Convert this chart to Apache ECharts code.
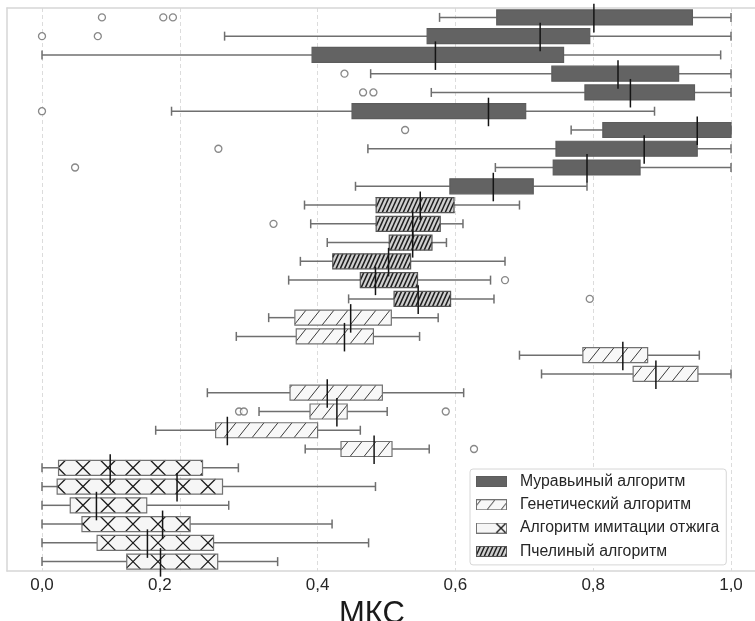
<!DOCTYPE html>
<html><head><meta charset="utf-8">
<script src="https://cdn.jsdelivr.net/npm/echarts@6/dist/echarts.min.js"></script>
<style>html,body{margin:0;padding:0;background:#fff}#c{width:755px;height:621px}</style>
</head><body><div id="c"></div>
<script>
// ---- categories (rows, top to bottom) ----
const rowIds = ['A1','A2','A3','A4','A5','A6','A7','A8','A9','A10',
                'B1','B2','B3','B4','B5','B6',
                'G1','G2','G3','G4','G5','G6','G7','G8',
                'S1','S2','S3','S4','S5','S6'];
const seriesNames = ['Муравьиный алгоритм','Генетический алгоритм','Алгоритм имитации отжига','Пчелиный алгоритм'];
const tickValues = [0, 0.2, 0.4, 0.6, 0.8, 1.0];
const axisName = 'МКС';

// ---- Муравьиный алгоритм (rows A1..A10) ----
const antLow  = [0.577, 0.265, 0.000, 0.477, 0.565, 0.188, 0.768, 0.473, 0.658, 0.455];
const antQ1   = [0.660, 0.559, 0.392, 0.740, 0.788, 0.450, 0.814, 0.746, 0.742, 0.592];
const antMed  = [0.801, 0.723, 0.571, 0.836, 0.854, 0.648, 0.951, 0.874, 0.791, 0.655];
const antQ3   = [0.944, 0.795, 0.757, 0.924, 0.947, 0.702, 1.000, 0.951, 0.868, 0.713];
const antHigh = [1.000, 1.000, 0.985, 1.000, 1.000, 0.889, 1.000, 1.000, 1.000, 0.791];
const antOut  = [[0,0.087],[0,0.176],[0,0.190],[1,0.000],[1,0.081],[3,0.439],[4,0.466],[4,0.481],[5,0.000],[6,0.527],[7,0.256],[8,0.048]];

// ---- Пчелиный алгоритм (rows B1..B6) ----
const beeLow  = [0.381, 0.390, 0.414, 0.375, 0.358, 0.445];
const beeQ1   = [0.485, 0.485, 0.504, 0.422, 0.462, 0.511];
const beeMed  = [0.549, 0.538, 0.538, 0.503, 0.484, 0.546];
const beeQ3   = [0.598, 0.578, 0.566, 0.535, 0.545, 0.593];
const beeHigh = [0.693, 0.611, 0.587, 0.672, 0.651, 0.656];
const beeOut  = [[1,0.336],[4,0.672],[5,0.795]];

// ---- Генетический алгоритм (rows G1..G8) ----
const genLow  = [0.329, 0.282, 0.693, 0.725, 0.240, 0.315, 0.165, 0.382];
const genQ1   = [0.367, 0.369, 0.785, 0.858, 0.360, 0.389, 0.252, 0.434];
const genMed  = [0.448, 0.439, 0.843, 0.891, 0.414, 0.428, 0.269, 0.482];
const genQ3   = [0.507, 0.481, 0.879, 0.952, 0.494, 0.443, 0.400, 0.508];
const genHigh = [0.575, 0.548, 0.954, 1.000, 0.612, 0.501, 0.462, 0.562];
const genOut  = [[5,0.286],[5,0.293],[5,0.586],[7,0.627]];

// ---- Алгоритм имитации отжига (rows S1..S6) ----
const annLow  = [0.000, 0.000, 0.000, 0.000, 0.000, 0.000];
const annQ1   = [0.024, 0.022, 0.041, 0.058, 0.080, 0.123];
const annMed  = [0.099, 0.196, 0.079, 0.175, 0.153, 0.172];
const annQ3   = [0.233, 0.262, 0.152, 0.215, 0.249, 0.255];
const annHigh = [0.285, 0.484, 0.271, 0.421, 0.474, 0.342];
const annOut  = [];

// ---- build ----
const offAnt = 0, offBee = antLow.length, offGen = offBee + beeLow.length, offAnn = offGen + genLow.length;
function rows(off, lo, q1, md, q3, hi) {
  return lo.map((v, i) => [off + i, lo[i], q1[i], md[i], q3[i], hi[i]]);
}
function outs(off, arr) { return arr.map(p => [p[1], off + p[0]]); }

const STY = {
  ant: {fill:'#636363', stroke:'#5c5c5c', hatch:null},
  gen: {fill:'#f8f8f8', stroke:'#727272', hatch:'/', sp:14, dx:0.8, hc:'#3a3a3a', hw:1},
  bee: {fill:'#d0d0d0', stroke:'#555', hatch:'/', sp:4.2, dx:0.45, hc:'#1e1e1e', hw:1.5},
  ann: {fill:'#f6f6f6', stroke:'#727272', hatch:'x', sp:25, dx:1.0, hc:'#1a1a1a', hw:1.3}
};

function hatchLines(st, x0, x1, y0, y1) {
  const out = [];
  const h = y1 - y0;
  const ls = {stroke: st.hc, lineWidth: st.hw};
  function seg(xb, xt) { // from (xb, bottom) to (xt, top), clipped to [x0,x1]
    const dx = xt - xb;
    let tmin = 0, tmax = 1;
    if (dx > 0) { tmin = Math.max(0, (x0 - xb) / dx); tmax = Math.min(1, (x1 - xb) / dx); }
    else if (dx < 0) { tmin = Math.max(0, (x1 - xb) / dx); tmax = Math.min(1, (x0 - xb) / dx); }
    if (tmax <= tmin) return;
    out.push({type:'line', silent:true, shape:{x1: xb + tmin*dx, y1: y1 - tmin*h, x2: xb + tmax*dx, y2: y1 - tmax*h}, style: ls});
  }
  if (st.hatch === '/') {
    const d = st.dx * h;
    for (let k = Math.floor((x0 - d) / st.sp); k * st.sp <= x1; k++) seg(k * st.sp, k * st.sp + d);
  } else if (st.hatch === 'x') {
    const d = st.dx * h;
    for (let k = Math.floor((x0 - d) / st.sp); k * st.sp - d <= x1; k++) {
      const c = k * st.sp + 8;
      seg(c - d/2, c + d/2);
      seg(c + d/2, c - d/2);
    }
  }
  return out;
}

function boxRenderer(st) {
  return function (params, api) {
    const row = api.value(0);
    const xs = [1,2,3,4,5].map(d => api.coord([api.value(d), row])[0]);
    const yc = api.coord([api.value(1), row])[1];
    const band = api.size([0, 1])[1];
    const bh = band * 0.8, y0 = yc - bh / 2, y1 = yc + bh / 2;
    const [xLo, xQ1, xMd, xQ3, xHi] = xs;
    const wh = {stroke:'#6f6f6f', lineWidth:1.5};
    const cap = 4.5;
    const ch = [
      {type:'line', shape:{x1:xLo, y1:yc, x2:xQ1, y2:yc}, style:wh},
      {type:'line', shape:{x1:xQ3, y1:yc, x2:xHi, y2:yc}, style:wh},
      {type:'line', shape:{x1:xLo, y1:yc-cap, x2:xLo, y2:yc+cap}, style:wh},
      {type:'line', shape:{x1:xHi, y1:yc-cap, x2:xHi, y2:yc+cap}, style:wh},
      {type:'rect', shape:{x:xQ1, y:y0, width:xQ3-xQ1, height:bh}, style:{fill:st.fill}}
    ];
    if (st.hatch) hatchLines(st, xQ1, xQ3, y0, y1).forEach(e => ch.push(e));
    ch.push({type:'rect', shape:{x:xQ1, y:y0, width:xQ3-xQ1, height:bh}, style:{fill:'none', stroke:st.stroke, lineWidth:1.2}});
    ch.push({type:'line', z2:100, shape:{x1:xMd, y1:yc - 0.72*band, x2:xMd, y2:yc + 0.8*band}, style:{stroke:'#141414', lineWidth:1.5}});
    return {type:'group', children: ch};
  };
}

function makeIcon(st) {
  const cv = document.createElement('canvas');
  cv.width = 39; cv.height = 11;
  const g = cv.getContext('2d');
  g.fillStyle = st.fill; g.fillRect(0.5, 0.5, 30, 10);
  g.save(); g.beginPath(); g.rect(0.5, 0.5, 30, 10); g.clip();
  g.beginPath();
  if (st.hatch === '/') {
    const d = st.dx * 10;
    for (let x = -20; x < 40; x += st.sp) { g.moveTo(x + 3, 10.5); g.lineTo(x + 3 + d, 0.5); }
  } else if (st.hatch === 'x') {
    g.moveTo(20, 0.5); g.lineTo(30, 10.5); g.moveTo(20, 10.5); g.lineTo(30, 0.5);
  }
  g.strokeStyle = st.hc || '#000'; g.lineWidth = st.hw || 1; g.stroke();
  g.restore();
  g.strokeStyle = st.stroke; g.lineWidth = 1; g.strokeRect(0.5, 0.5, 30, 10);
  return 'image://' + cv.toDataURL();
}

const FONT = 'Liberation Sans, Arial, sans-serif';
const xMin = -35 / 689, xMax = xMin + 748 / 689;
const spine = {show: true, onZero: false, lineStyle: {color: '#d6d6d6', width: 1.5}};

const chart = echarts.init(document.getElementById('c'), null, {renderer:'canvas'});
chart.setOption({
  animation: false,
  backgroundColor: '#fff',
  textStyle: {fontFamily: FONT},
  grid: {left: 7, right: 0, top: 8, bottom: 50, show: false, containLabel: false, outerBoundsMode: 'none'},
  xAxis: [{
    type: 'value', position: 'bottom', min: xMin, max: xMax, splitNumber: 5,
    axisLine: spine, axisTick: {show: false},
    splitLine: {show: true, showMinLine: false, showMaxLine: false, lineStyle: {color: '#dcdcdc', width: 1, type: [4, 3]}},
    axisLabel: {
      show: true, margin: 6, fontSize: 17, color: '#262626', fontFamily: FONT,
      showMinLabel: false, showMaxLabel: false,
      formatter: function (v) {
        const hit = tickValues.find(t => Math.abs(t - v) < 1e-6);
        if (hit === undefined) return '';
        const s = hit.toFixed(1).replace('.', ',');
        return hit === 0.2 ? '{s|' + s + '}' : s;
      },
      rich: {s: {fontSize: 17, color: '#262626', fontFamily: FONT, padding: [0, 40, 0, 0]}}
    },
    name: axisName, nameLocation: 'middle', nameGap: 15,
    nameTextStyle: {fontSize: 31, color: '#1a1a1a', fontFamily: FONT, padding: [0, 18, 0, 0]}
  }, {
    type: 'value', position: 'top', min: xMin, max: xMax,
    axisLine: spine, axisTick: {show: false}, axisLabel: {show: false}, splitLine: {show: false}
  }],
  yAxis: {
    type: 'category', data: rowIds, inverse: true, position: 'left',
    axisLine: spine, axisTick: {show: false}, axisLabel: {show: false}, splitLine: {show: false}
  },
  legend: {
    orient: 'vertical', left: 470, top: 469,
    padding: [4, 7, 5, 6], itemGap: 6.3, itemWidth: 39, itemHeight: 11,
    backgroundColor: '#fff', borderColor: '#d6d6d6', borderWidth: 1, borderRadius: 3,
    textStyle: {fontSize: 15.8, color: '#262626', fontFamily: FONT, lineHeight: 17},
    selectedMode: false,
    data: [
      {name: seriesNames[0], icon: makeIcon(STY.ant)},
      {name: seriesNames[1], icon: makeIcon(STY.gen)},
      {name: seriesNames[2], icon: makeIcon(STY.ann)},
      {name: seriesNames[3], icon: makeIcon(STY.bee)}
    ]
  },
  series: [
    {name: seriesNames[0], type: 'custom', silent: true, renderItem: boxRenderer(STY.ant),
     encode: {x: [1,2,3,4,5], y: 0}, itemStyle: {color: STY.ant.fill}, data: rows(offAnt, antLow, antQ1, antMed, antQ3, antHigh)},
    {name: seriesNames[1], type: 'custom', silent: true, renderItem: boxRenderer(STY.gen),
     encode: {x: [1,2,3,4,5], y: 0}, itemStyle: {color: STY.gen.fill}, data: rows(offGen, genLow, genQ1, genMed, genQ3, genHigh)},
    {name: seriesNames[2], type: 'custom', silent: true, renderItem: boxRenderer(STY.ann),
     encode: {x: [1,2,3,4,5], y: 0}, itemStyle: {color: STY.ann.fill}, data: rows(offAnn, annLow, annQ1, annMed, annQ3, annHigh)},
    {name: seriesNames[3], type: 'custom', silent: true, renderItem: boxRenderer(STY.bee),
     encode: {x: [1,2,3,4,5], y: 0}, itemStyle: {color: STY.bee.fill}, data: rows(offBee, beeLow, beeQ1, beeMed, beeQ3, beeHigh)},
    {name: 'outliers', type: 'scatter', silent: true, symbol: 'circle', symbolSize: 7,
     itemStyle: {color: '#ffffff', borderColor: '#6a6a6a', borderWidth: 1.3},
     encode: {x: 0, y: 1},
     data: [].concat(outs(offAnt, antOut), outs(offBee, beeOut), outs(offGen, genOut), outs(offAnn, annOut))}
  ]
});
</script>
</body></html>
